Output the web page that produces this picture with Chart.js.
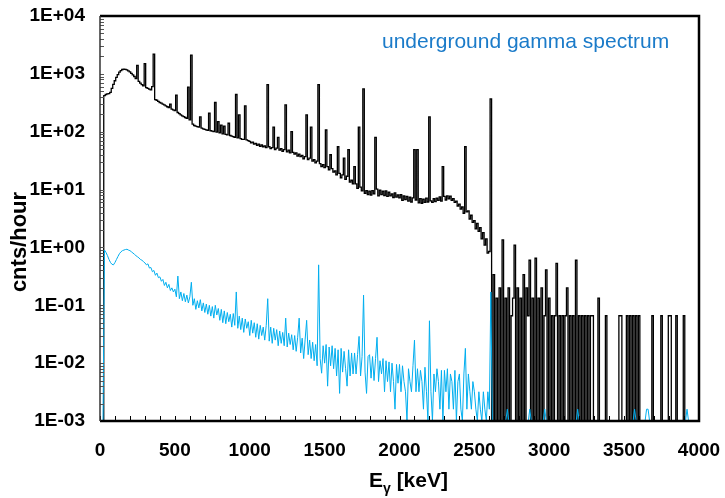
<!DOCTYPE html>
<html>
<head>
<meta charset="utf-8">
<script src="https://cdn.jsdelivr.net/npm/chart.js@4.4.1/dist/chart.umd.min.js"></script>
<style>
  html, body { margin: 0; padding: 0; background: #fff; }
</style>
</head>
<body>
<canvas id="chart" width="725" height="498"></canvas>
<script>
// 10 keV bins, 0 .. 4000 keV
const energyKeV = Array.from({ length: 401 }, (_, i) => i * 10);

// surface spectrum (black), cnts/hour, one row = 100 keV
const surfaceCounts = [
  0, 0, 0, 420, 440, 450, 455, 480, 560, 660,
  760, 870, 970, 1070, 1140, 1190, 1210, 1200, 1170, 1130,
  1080, 1020, 960, 900, 830, 1400, 740, 690, 650, 620,
  1500, 580, 560, 545, 530, 600, 2200, 360, 350, 335,
  320, 312, 300, 290, 280, 270, 262, 300, 245, 238,
  232, 430, 215, 205, 195, 188, 182, 176, 170, 590,
  160, 2100, 135, 128, 125, 122, 120, 180, 115, 112,
  110, 108, 106, 210, 104, 102, 100, 320, 98, 150,
  96, 130, 92, 125, 90, 88, 140, 86, 84, 82,
  80, 440, 78, 195, 76, 74, 74, 280, 72, 70,
  68, 64, 66, 61, 63, 58, 61, 56, 59, 55,
  57, 53, 650, 55, 51, 53, 120, 49, 52, 80,
  48, 51, 46, 49, 290, 45, 48, 43, 100, 44,
  41, 43, 38, 41, 37, 39, 34, 37, 195, 33,
  35, 120, 31, 33, 29, 31, 650, 28, 25, 27,
  24, 107, 25, 22, 40, 23, 20, 21, 18, 55,
  19, 16, 18, 35, 15, 17, 49, 13.5, 14.5, 12.5,
  25, 12.5, 10.5, 120, 11, 9.5, 550, 8.6, 9.6, 8.2,
  9.4, 8.0, 9.6, 8.4, 80, 10.2, 7.8, 9.8, 8.2, 9.4,
  7.9, 9.5, 7.6, 9.0, 7.8, 8.4, 7.3, 8.8, 7.4, 8.1,
  7.2, 8.2, 6.5, 7.8, 6.7, 7.6, 6.3, 7.4, 6.1, 7.2,
  49, 6.6, 49, 5.9, 7.0, 5.8, 6.8, 6.0, 7.1, 6.1,
  180, 6.4, 6.0, 7.0, 6.2, 7.1, 6.5, 7.5, 6.3, 25,
  7.6, 6.6, 7.8, 6.9, 7.7, 6.5, 7.0, 6.0, 6.3, 5.2,
  5.6, 4.6, 5.0, 3.9, 55, 4.1, 4.3, 3.1, 3.6, 2.7,
  2.9, 2.1, 2.6, 1.9, 2.2, 1.4, 1.8, 1.1, 1.4, 0.8,
  0.85, 370, 0, 0.34, 0, 0.133, 0, 0.2, 0, 1.35,
  0, 0.133, 0, 0.2, 0, 0.066, 0.133, 1.1, 0, 0.2,
  0, 0.133, 0, 0.34, 0, 0.2, 0.066, 0.6, 0, 0.133,
  0, 0.65, 0, 0.133, 0, 0.2, 0, 0.066, 0.41, 0,
  0.133, 0, 0.066, 0, 0.066, 0.53, 0, 0.066, 0, 0.066,
  0, 0.066, 0.2, 0, 0.066, 0, 0.066, 0, 0.6, 0,
  0.066, 0, 0.066, 0, 0.066, 0, 0.066, 0, 0.066, 0.066,
  0, 0, 0, 0.133, 0, 0, 0, 0, 0.066, 0,
  0, 0, 0, 0, 0, 0, 0, 0.066, 0.066, 0,
  0, 0, 0.066, 0, 0.066, 0, 0.066, 0, 0.066, 0,
  0.066, 0, 0, 0, 0, 0, 0, 0, 0, 0.066,
  0, 0, 0, 0, 0, 0.066, 0, 0, 0, 0,
  0.066, 0.066, 0, 0, 0, 0.066, 0, 0, 0, 0,
  0.066, 0, 0, 0, 0, 0, 0, 0, 0, 0,
  0
];

// underground spectrum (blue), cnts/hour
const undergroundCounts = [
  0, 0, 0, 0.9, 0.82, 0.72, 0.62, 0.55, 0.51, 0.5,
  0.55, 0.62, 0.7, 0.78, 0.84, 0.88, 0.9, 0.92, 0.93, 0.9,
  0.88, 0.84, 0.8, 0.76, 0.72, 0.69, 0.66, 0.62, 0.6, 0.57,
  0.54, 0.5, 0.52, 0.44, 0.45, 0.38, 0.4, 0.33, 0.36, 0.3,
  0.31, 0.26, 0.28, 0.22, 0.25, 0.2, 0.23, 0.18, 0.2, 0.17,
  0.19, 0.14, 0.32, 0.13, 0.17, 0.12, 0.16, 0.115, 0.15, 0.11,
  0.14, 0.25, 0.1, 0.13, 0.085, 0.12, 0.09, 0.125, 0.08, 0.11,
  0.075, 0.105, 0.07, 0.1, 0.065, 0.095, 0.06, 0.1, 0.068, 0.088,
  0.055, 0.085, 0.05, 0.08, 0.048, 0.075, 0.052, 0.07, 0.042, 0.072,
  0.045, 0.17, 0.04, 0.065, 0.038, 0.06, 0.034, 0.058, 0.04, 0.052,
  0.03, 0.055, 0.033, 0.05, 0.028, 0.048, 0.026, 0.045, 0.03, 0.042,
  0.025, 0.045, 0.13, 0.024, 0.042, 0.022, 0.04, 0.025, 0.038, 0.02,
  0.036, 0.022, 0.034, 0.02, 0.06, 0.019, 0.033, 0.021, 0.031, 0.017,
  0.03, 0.016, 0.028, 0.06, 0.015, 0.027, 0.012, 0.026, 0.055, 0.014,
  0.025, 0.012, 0.023, 0.011, 0.021, 0.009, 0.5, 0.012, 0.0067, 0.02,
  0.01, 0.021, 0.004, 0.019, 0.009, 0.02, 0.008, 0.018, 0.006, 0.017,
  0.003, 0.018, 0.007, 0.016, 0.008, 0.004, 0.017, 0.006, 0.015, 0.0065,
  0.015, 0.0065, 0.014, 0.029, 0.006, 0.013, 0.15, 0.007, 0.003, 0.013,
  0.014, 0.0055, 0.013, 0.005, 0.012, 0.028, 0.0048, 0.011, 0.0065, 0.012,
  0.0032, 0.011, 0.0048, 0.0105, 0.0032, 0.01, 0.0048, 0.0016, 0.0095, 0.0045,
  0.0095, 0.0032, 0.009, 0.0048, 0.0032, 0, 0.008, 0.0048, 0.0032, 0.009,
  0.025, 0.0032, 0.008, 0.0032, 0.0075, 0.0048, 0.0016, 0.0085, 0.0032, 0,
  0.054, 0.0032, 0, 0.0065, 0.0032, 0.008, 0.0048, 0.0016, 0.0075, 0,
  0.0075, 0.0032, 0.008, 0.0016, 0.0065, 0.0048, 0.0016, 0.0075, 0, 0.0048,
  0.0065, 0.0016, 0, 0.0065, 0.018, 0.0016, 0.0065, 0.0032, 0.0016, 0.0048,
  0.0032, 0.0016, 0, 0.0032, 0.0016, 0, 0.0032, 0.0016, 0, 0.0032,
  0.0016, 0.17, 0, 0, 0, 0, 0, 0, 0, 0,
  0, 0, 0.0016, 0, 0, 0, 0, 0, 0, 0,
  0, 0, 0, 0, 0, 0, 0, 0.0016, 0, 0,
  0, 0, 0, 0, 0, 0, 0, 0.0016, 0, 0,
  0, 0, 0, 0, 0, 0, 0, 0, 0, 0,
  0, 0, 0, 0, 0, 0, 0, 0, 0, 0.0016,
  0, 0, 0, 0, 0, 0, 0, 0, 0, 0,
  0, 0, 0, 0, 0, 0, 0, 0, 0, 0,
  0, 0, 0, 0, 0, 0, 0, 0, 0, 0,
  0, 0, 0, 0, 0, 0, 0, 0.0016, 0, 0,
  0, 0, 0, 0, 0, 0.0016, 0.0016, 0, 0, 0,
  0, 0, 0, 0, 0, 0, 0, 0, 0, 0,
  0, 0, 0, 0, 0, 0, 0, 0, 0, 0,
  0, 0, 0.0016, 0, 0, 0, 0, 0, 0, 0,
  0
];

const yTickValues = [1e-3, 1e-2, 1e-1, 1, 10, 100, 1000, 10000];
const yTickLabels = ['1E-03', '1E-02', '1E-01', '1E+00', '1E+01', '1E+02', '1E+03', '1E+04'];

const FONT = "'Liberation Sans', Arial, sans-serif";
const Y_MIN = 1e-3;

// empty bins go to the bottom of the log axis
function toPoints(values) {
  return energyKeV.map((e, i) => ({ x: e, y: values[i] > 0 ? values[i] : Y_MIN }));
}

// frame, inside ticks and axis titles
const framePlugin = {
  id: 'frame',
  afterDraw(chart) {
    const { ctx, chartArea: a, scales: { x, y } } = chart;
    ctx.save();

    ctx.strokeStyle = '#000';
    ctx.lineWidth = 1;
    ctx.beginPath();
    for (let e = 0; e <= 4000; e += 100) {
      const px = Math.round(x.getPixelForValue(e)) + 0.5;
      ctx.moveTo(px, a.bottom);
      ctx.lineTo(px, a.bottom - 5);
    }
    ctx.stroke();

    ctx.strokeStyle = '#555';
    ctx.beginPath();
    for (let d = -3; d < 4; d++) {
      for (let k = 1; k < 10; k++) {
        const py = Math.round(y.getPixelForValue(k * Math.pow(10, d))) + 0.5;
        ctx.moveTo(a.left, py);
        ctx.lineTo(a.left + 4, py);
      }
    }
    ctx.stroke();

    ctx.strokeStyle = '#000';
    ctx.lineWidth = 2.5;
    ctx.beginPath();
    ctx.moveTo(a.left, a.top);
    ctx.lineTo(a.right, a.top);
    ctx.lineTo(a.right, a.bottom);
    ctx.lineTo(a.left, a.bottom);
    ctx.stroke();
    ctx.lineWidth = 1.5;
    ctx.strokeStyle = '#333';
    ctx.beginPath();
    ctx.moveTo(a.left, a.top);
    ctx.lineTo(a.left, a.bottom);
    ctx.stroke();

    // in-plot label
    ctx.fillStyle = '#1b7bc9';
    ctx.font = '21px ' + FONT;
    ctx.textBaseline = 'alphabetic';
    ctx.textAlign = 'left';
    ctx.fillText('underground gamma spectrum', 382, 48);

    // y title
    ctx.fillStyle = '#000';
    ctx.font = 'bold 22px ' + FONT;
    ctx.save();
    ctx.translate(26, 242);
    ctx.rotate(-Math.PI / 2);
    ctx.textAlign = 'center';
    ctx.fillText('cnts/hour', 0, 0);
    ctx.restore();

    // x title with subscript
    let cx = 369;
    ctx.font = 'bold 21px ' + FONT;
    ctx.fillText('E', cx, 487);
    cx += ctx.measureText('E').width;
    ctx.font = 'bold 14px ' + FONT;
    ctx.fillText('γ', cx, 493);
    cx += ctx.measureText('γ').width;
    ctx.font = 'bold 21px ' + FONT;
    ctx.fillText(' [keV]', cx, 487);

    ctx.restore();
  }
};

new Chart(document.getElementById('chart'), {
  type: 'line',
  data: {
    datasets: [
      {
        label: 'underground',
        data: toPoints(undergroundCounts),
        borderColor: '#00aeef',
        borderWidth: 1,
        pointRadius: 0,
        tension: 0
      },
      {
        label: 'surface',
        data: toPoints(surfaceCounts),
        borderColor: '#000000',
        borderWidth: 1.3,
        pointRadius: 0,
        stepped: 'middle'
      }
    ]
  },
  options: {
    responsive: false,
    animation: false,
    layout: { padding: { left: 0, top: 16, right: 26, bottom: 0 } },
    plugins: {
      legend: { display: false },
      tooltip: { enabled: false }
    },
    scales: {
      x: {
        type: 'linear',
        min: 0,
        max: 4000,
        grid: { display: false, drawTicks: false },
        border: { display: false },
        ticks: {
          stepSize: 500,
          padding: 18,
          maxRotation: 0,
          color: '#000',
          font: { family: FONT, size: 19, weight: 'bold' },
          callback: v => v
        },
        afterFit: s => { s.height = 77; s.paddingLeft = 0; s.paddingRight = 0; }
      },
      y: {
        type: 'logarithmic',
        min: Y_MIN,
        max: 10000,
        grid: { display: false, drawTicks: false },
        border: { display: false },
        afterBuildTicks: s => { s.ticks = yTickValues.map(v => ({ value: v })); },
        ticks: {
          padding: 15,
          color: '#000',
          font: { family: FONT, size: 19, weight: 'bold' },
          callback: (v, i) => yTickLabels[i]
        },
        afterFit: s => { s.width = 100; s.paddingTop = 0; s.paddingBottom = 0; }
      }
    }
  },
  plugins: [framePlugin]
});
</script>
</body>
</html>
